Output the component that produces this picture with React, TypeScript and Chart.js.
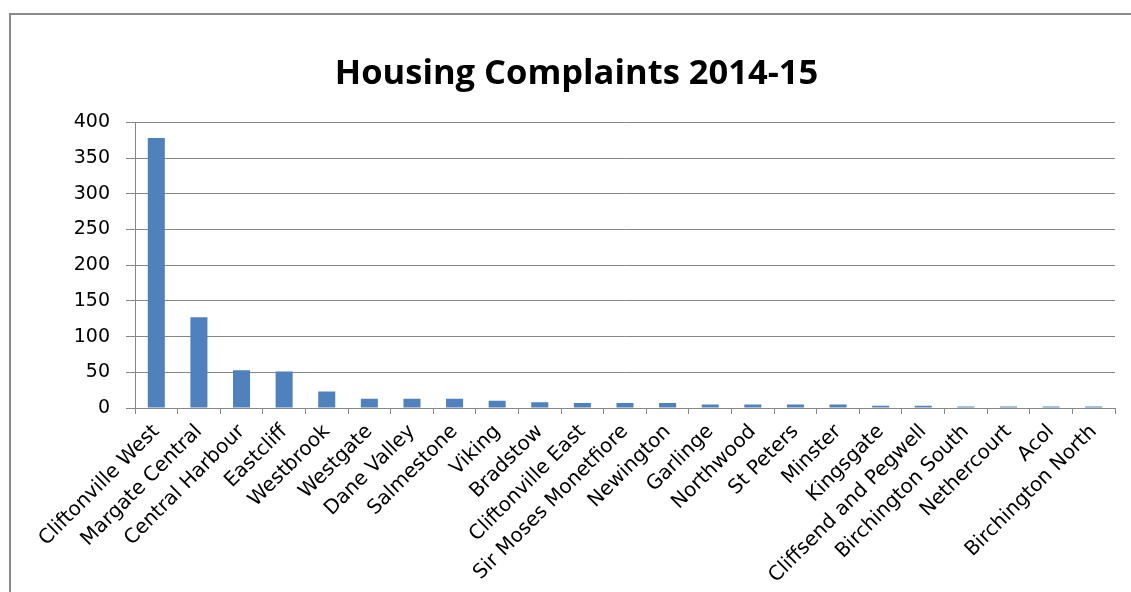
import React, { useEffect, useRef } from "react";
import { Chart, registerables } from "chart.js";

Chart.register(...registerables);

const chartTitle = "Housing Complaints 2014-15";
const wards = [
  "Cliftonville West",
  "Margate Central",
  "Central Harbour",
  "Eastcliff",
  "Westbrook",
  "Westgate",
  "Dane Valley",
  "Salmestone",
  "Viking",
  "Bradstow",
  "Cliftonville East",
  "Sir Moses Monetfiore",
  "Newington",
  "Garlinge",
  "Northwood",
  "St Peters",
  "Minster",
  "Kingsgate",
  "Cliffsend and Pegwell",
  "Birchington South",
  "Nethercourt",
  "Acol",
  "Birchington North",
];
const complaints = [378, 127, 53, 51, 23, 13, 13, 13, 10, 8, 7, 7, 7, 5, 5, 5, 5, 3, 3, 2, 2, 2, 2];
const yMin = 0;
const yMax = 400;
const yStep = 50;

const TITLE_FONT = "'Open Sans', 'DejaVu Sans', sans-serif";
const FONT = "'DejaVu Sans', sans-serif";
const GRID = "#868686";

export default function App() {
  const ref = useRef<HTMLCanvasElement | null>(null);

  useEffect(() => {
    if (!ref.current) return;
    const chart = new Chart(ref.current, {
      type: "bar",
      data: {
        labels: wards,
        datasets: [
          {
            data: complaints,
            backgroundColor: "#4F81BD",
            borderWidth: 0,
            barPercentage: 0.4,
            categoryPercentage: 1,
          },
        ],
      },
      options: {
        responsive: false,
        animation: false,
        layout: { padding: { left: 38, right: 16, top: 0, bottom: 0 } },
        plugins: {
          legend: { display: false },
          tooltip: { enabled: false },
          title: {
            display: true,
            text: chartTitle,
            color: "#000",
            font: { family: TITLE_FONT, size: 34.5, weight: "bold" },
            padding: { top: 53, bottom: 28 },
          },
        },
        scales: {
          x: {
            offset: true,
            grid: {
              offset: true,
              drawOnChartArea: false,
              drawTicks: true,
              tickLength: 6,
              color: GRID,
            },
            border: { display: true, color: GRID, width: 1 },
            ticks: {
              autoSkip: false,
              minRotation: 45,
              maxRotation: 45,
              color: "#000",
              padding: 6,
              font: { family: FONT, size: 20 },
            },
            afterFit: (scale: any) => {
              scale.height = 184;
            },
          },
          y: {
            min: yMin,
            max: yMax,
            ticks: {
              stepSize: yStep,
              color: "#000",
              padding: 16,
              font: { family: FONT, size: 19 },
            },
            grid: { color: GRID, tickLength: 9, lineWidth: 1 },
            border: { display: true, color: GRID, width: 1 },
            afterFit: (scale: any) => {
              scale.width = 97;
            },
          },
        },
      },
    });
    return () => chart.destroy();
  }, []);

  return (
    <div style={{ position: "fixed", left: 0, top: 0, width: 1131, height: 592, background: "#fff", overflow: "hidden" }}>
      <div
        style={{
          position: "absolute",
          left: 9,
          top: 13,
          width: 1200,
          height: 700,
          borderLeft: "2px solid #8a8a8a",
          borderTop: "2px solid #8a8a8a",
        }}
      />
      <canvas ref={ref} width={1131} height={592} style={{ position: "absolute", left: 0, top: 0 }} />
    </div>
  );
}
